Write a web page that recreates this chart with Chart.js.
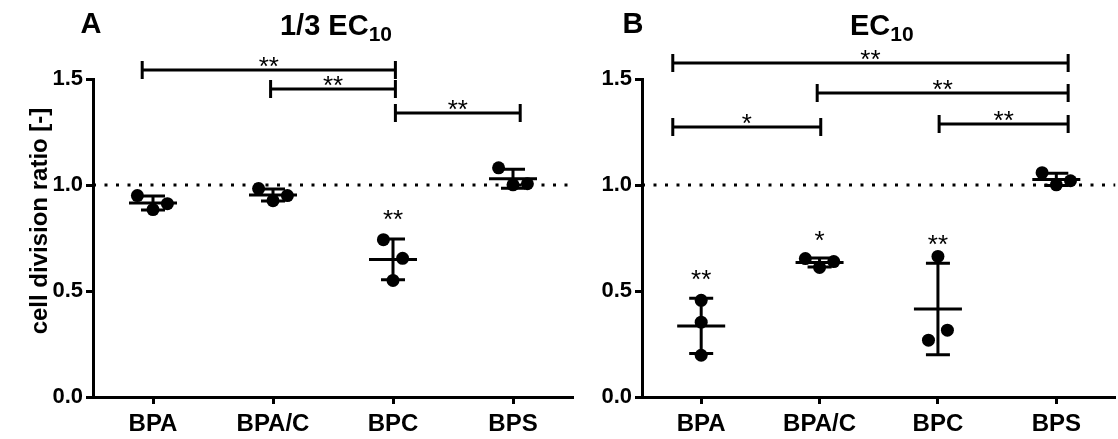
<!DOCTYPE html>
<html>
<head>
<meta charset="utf-8">
<script src="https://cdn.jsdelivr.net/npm/chart.js@4.4.1/dist/chart.umd.min.js"></script>
<style>
  html, body { margin: 0; padding: 0; background: #fff; overflow: hidden; }
  #wrap { position: relative; width: 1118px; height: 439px; overflow: hidden; }
  canvas { position: absolute; top: 0; }
  #panelA { left: 0; }
  #panelB { left: 580px; }
</style>
</head>
<body>
<div id="wrap">
  <canvas id="panelA" width="580" height="439"></canvas>
  <canvas id="panelB" width="542" height="439"></canvas>
</div>
<script>
// categories and axis
const categories = ['BPA', 'BPA/C', 'BPC', 'BPS'];
const yTicks = [0, 0.5, 1.0, 1.5];
const referenceLevel = 1.0;

// panel A (1/3 EC10): three replicates per substance
const ratiosA = [
  [0.950, 0.884, 0.912],
  [0.983, 0.926, 0.950],
  [0.742, 0.654, 0.550],
  [1.081, 1.001, 1.006]
];
// horizontal scatter of the replicate dots, in category units
const jitterA = [
  [-0.13, 0, 0.12],
  [-0.12, 0, 0.12],
  [-0.08, 0.08, 0],
  [-0.12, 0, 0.12]
];
const starsA = ['', '', '**', ''];
const starLevelA = [null, null, 0.866, null];
const bracketsA = [
  { from: -0.09, to: 2.02, level: 1.542, label: '**' },
  { from: 0.98, to: 2.02, level: 1.453, label: '**' },
  { from: 2.02, to: 3.06, level: 1.340, label: '**' }
];

// panel B (EC10)
const ratiosB = [
  [0.456, 0.353, 0.197],
  [0.653, 0.611, 0.639],
  [0.663, 0.268, 0.315],
  [1.058, 1.001, 1.020]
];
const jitterB = [
  [0, 0, 0],
  [-0.12, 0, 0.12],
  [0, -0.08, 0.08],
  [-0.12, 0, 0.12]
];
const starsB = ['**', '*', '**', ''];
const starLevelB = [0.583, 0.771, 0.748, null];
const bracketsB = [
  { from: -0.24, to: 3.10, level: 1.575, label: '**' },
  { from: 0.98, to: 3.10, level: 1.434, label: '**' },
  { from: -0.24, to: 1.01, level: 1.274, label: '*' },
  { from: 2.01, to: 3.10, level: 1.288, label: '**' }
];

const FONT = "'Liberation Sans', Arial, Helvetica, sans-serif";

function meanSd(vals) {
  const m = vals.reduce((a, b) => a + b, 0) / vals.length;
  const v = vals.reduce((a, b) => a + (b - m) * (b - m), 0) / (vals.length - 1);
  return { mean: m, sd: Math.sqrt(v) };
}

// mean +/- SD, significance stars and comparison brackets
function makeMarksPlugin(groups, stars, starLevels, brackets) {
  return {
    id: 'marks',
    afterDatasetsDraw(chart) {
      const { ctx } = chart;
      const x = chart.scales.x, y = chart.scales.y;
      ctx.save();
      ctx.strokeStyle = '#000';
      ctx.fillStyle = '#000';
      ctx.lineWidth = 3;
      groups.forEach((vals, i) => {
        const s = meanSd(vals);
        const cx = x.getPixelForValue(i);
        const ym = y.getPixelForValue(s.mean);
        const yt = y.getPixelForValue(s.mean + s.sd);
        const yb = y.getPixelForValue(s.mean - s.sd);
        ctx.beginPath();
        ctx.moveTo(cx - 24, ym); ctx.lineTo(cx + 24, ym);
        ctx.moveTo(cx, yt); ctx.lineTo(cx, yb);
        ctx.moveTo(cx - 12, yt); ctx.lineTo(cx + 12, yt);
        ctx.moveTo(cx - 12, yb); ctx.lineTo(cx + 12, yb);
        ctx.stroke();
      });
      ctx.font = '26px ' + FONT;
      ctx.textAlign = 'center';
      ctx.textBaseline = 'alphabetic';
      stars.forEach((s, i) => {
        if (!s) return;
        ctx.fillText(s, x.getPixelForValue(i), y.getPixelForValue(starLevels[i]) + 15);
      });
      brackets.forEach(b => {
        const x1 = x.getPixelForValue(b.from), x2 = x.getPixelForValue(b.to);
        const yy = y.getPixelForValue(b.level);
        ctx.beginPath();
        ctx.moveTo(x1, yy); ctx.lineTo(x2, yy);
        ctx.moveTo(x1, yy - 9); ctx.lineTo(x1, yy + 9);
        ctx.moveTo(x2, yy - 9); ctx.lineTo(x2, yy + 9);
        ctx.stroke();
        ctx.fillText(b.label, (x1 + x2) / 2, yy - 10 + 15);
      });
      ctx.restore();
    }
  };
}

// panel letter, title with subscript, optional y-axis title
function makeTitlePlugin(letter, letterX, main, sub, yTitle) {
  return {
    id: 'titles',
    afterDraw(chart) {
      const { ctx, chartArea } = chart;
      ctx.save();
      ctx.fillStyle = '#000';
      ctx.textBaseline = 'alphabetic';
      ctx.font = 'bold 29px ' + FONT;
      ctx.textAlign = 'center';
      ctx.fillText(letter, letterX, 33);
      ctx.font = 'bold 29px ' + FONT;
      const mainW = ctx.measureText(main).width;
      ctx.font = 'bold 21px ' + FONT;
      const subW = ctx.measureText(sub).width;
      const cx = (chartArea.left + chartArea.right) / 2 + 3;
      const start = cx - (mainW + subW) / 2;
      ctx.textAlign = 'left';
      ctx.font = 'bold 29px ' + FONT;
      ctx.fillText(main, start, 35);
      ctx.font = 'bold 21px ' + FONT;
      ctx.fillText(sub, start + mainW, 41);
      if (yTitle) {
        ctx.translate(40, 221);
        ctx.rotate(-Math.PI / 2);
        ctx.textAlign = 'center';
        ctx.textBaseline = 'middle';
        ctx.font = 'bold 24px ' + FONT;
        ctx.fillText(yTitle, 0, 0);
      }
      ctx.restore();
    }
  };
}

function buildChart(id, ratios, jitter, yWidth, padRight, plugins) {
  const dots = [];
  ratios.forEach((vals, i) => vals.forEach((v, k) => dots.push({ x: i + jitter[i][k], y: v })));
  const xFont = { family: FONT, size: 24, weight: 'bold' };
  const yFont = { family: FONT, size: 22, weight: 'bold' };
  const grid = { drawOnChartArea: false, drawTicks: true, tickLength: 7, tickWidth: 3, tickColor: '#000' };
  return new Chart(document.getElementById(id), {
    type: 'scatter',
    data: {
      datasets: [
        {
          data: [{ x: -0.5, y: referenceLevel }, { x: 3.5, y: referenceLevel }],
          showLine: true,
          borderColor: '#000',
          borderWidth: 3,
          borderDash: [3, 8.5],
          pointRadius: 0
        },
        {
          data: dots,
          pointRadius: 6.5,
          backgroundColor: '#000',
          borderWidth: 0
        }
      ]
    },
    options: {
      responsive: false,
      animation: false,
      events: [],
      layout: { padding: { top: 79, left: 0, right: padRight, bottom: 0 } },
      plugins: { legend: { display: false }, tooltip: { enabled: false } },
      scales: {
        x: {
          type: 'linear',
          min: -0.5,
          max: 3.5,
          afterBuildTicks: s => { s.ticks = categories.map((c, i) => ({ value: i })); },
          afterFit: s => { s.height = 42; },
          ticks: { callback: v => categories[v], font: xFont, color: '#000', padding: 6, maxRotation: 0, autoSkip: false },
          grid: grid,
          border: { display: true, color: '#000', width: 3 }
        },
        y: {
          min: 0,
          max: 1.5,
          afterBuildTicks: s => { s.ticks = yTicks.map(v => ({ value: v })); },
          afterFit: s => { s.width = yWidth; },
          ticks: { callback: v => v.toFixed(1), font: yFont, color: '#000', padding: 3 },
          grid: grid,
          border: { display: true, color: '#000', width: 3 }
        }
      }
    },
    plugins: plugins
  });
}

buildChart('panelA', ratiosA, jitterA, 93, 7, [
  makeMarksPlugin(ratiosA, starsA, starLevelA, bracketsA),
  makeTitlePlugin('A', 91, '1/3 EC', '10', 'cell division ratio [-]')
]);
buildChart('panelB', ratiosB, jitterB, 62, 0, [
  makeMarksPlugin(ratiosB, starsB, starLevelB, bracketsB),
  makeTitlePlugin('B', 53, 'EC', '10', null)
]);
</script>
</body>
</html>
